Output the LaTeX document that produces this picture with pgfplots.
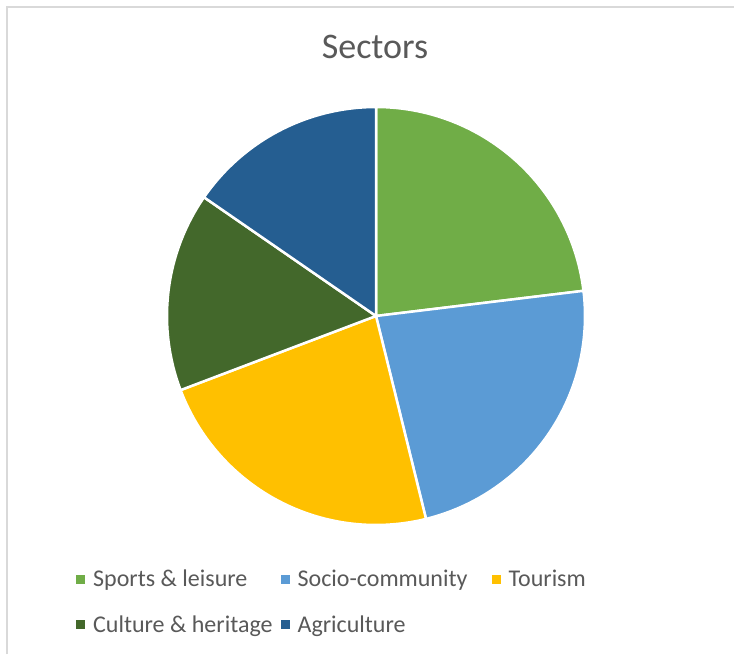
\documentclass[border=0pt]{standalone}
\usepackage{fontspec}
\setmainfont{Carlito}
\usepackage{pgfplots}
\usepackage{pgfplotstable}
\pgfplotsset{compat=1.18}

\definecolor{sportsc}{HTML}{70AD47}
\definecolor{socioc}{HTML}{5B9BD5}
\definecolor{tourc}{HTML}{FFC000}
\definecolor{cultc}{HTML}{43682B}
\definecolor{agric}{HTML}{255E91}
\definecolor{txt}{HTML}{595959}
\definecolor{framec}{HTML}{D9D9D9}

% number of projects per sector
\pgfplotstableread{
value colour
6 sportsc
6 socioc
6 tourc
4 cultc
4 agric
}\sectors

\begin{document}
\begin{tikzpicture}
\useasboundingbox (0pt,0pt) rectangle (734pt,654pt);
\fill[white] (0pt,0pt) rectangle (734pt,654pt);
\draw[framec, line width=2pt] (7pt,0pt) -- (7pt,647pt) -- (734pt,647pt);
\node[txt, anchor=base, font=\fontsize{36}{42}\selectfont] at (375pt,595pt) {Sectors};

\begin{axis}[
  at={(376pt,338pt)}, anchor=center,
  scale only axis, width=418pt, height=418pt,
  xmin=-1, xmax=1, ymin=-1, ymax=1,
  hide axis, clip=false,
  legend columns=3,
  legend cell align=left,
  legend style={draw=none, fill=none, text=txt,
    font=\fontsize{24}{28}\selectfont,
    at={(-0.225,-0.098)}, anchor=north west,
    row sep=23.5pt,
    /tikz/column 1/.style={column sep=6pt},
    /tikz/column 3/.style={column sep=6pt},
    /tikz/column 5/.style={column sep=6pt},
    /tikz/column 2/.style={column sep=6pt},
    /tikz/column 4/.style={column sep=22pt}},
  legend image code/.code={\path[#1, draw=none] (0pt,-4.5pt) rectangle (9pt,4.5pt);},
]
\pgfmathsetmacro\total{0}
\pgfplotsforeachungrouped \i in {0,...,4}{
  \pgfplotstablegetelem{\i}{value}\of\sectors
  \pgfmathsetmacro\total{\total+\pgfplotsretval}
}
\pgfmathsetmacro\cum{0}
\pgfplotsforeachungrouped \i in {0,...,4}{
  \pgfplotstablegetelem{\i}{value}\of\sectors
  \let\sval=\pgfplotsretval
  \pgfplotstablegetelem{\i}{colour}\of\sectors
  \let\scol=\pgfplotsretval
  \pgfmathsetmacro\aend{90-360*\cum/\total}
  \pgfmathsetmacro\astart{90-360*(\cum+\sval)/\total}
  \edef\slice{\noexpand\addplot[fill=\scol, draw=white, line width=2.5pt,
    line join=round, mark=none, domain=\astart:\aend, samples=90]
    ({cos(x)},{sin(x)}) -- (axis cs:0,0) -- cycle;}
  \slice
  \pgfmathsetmacro\cum{\cum+\sval}
}
\legend{Sports \& leisure, Socio-community, Tourism, Culture \& heritage, Agriculture}
\end{axis}
\end{tikzpicture}
\end{document}
